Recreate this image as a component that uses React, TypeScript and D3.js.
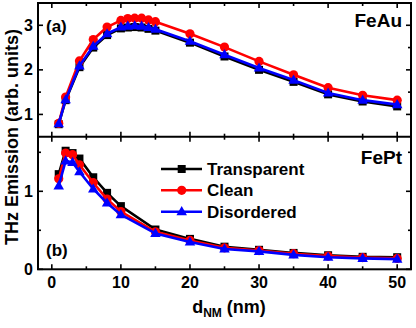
import React from "react";
import * as d3 from "d3";

const xA = [1, 2, 4, 6, 8, 10, 11, 12, 13, 14, 15, 20, 25, 30, 35, 40, 45, 50];
const transA = [0.78, 1.32, 2.06, 2.5, 2.78, 2.93, 2.95, 2.96, 2.95, 2.92, 2.88, 2.61, 2.3, 2.0, 1.73, 1.45, 1.29, 1.18];
const cleanA = [0.8, 1.39, 2.2, 2.68, 2.96, 3.11, 3.15, 3.16, 3.16, 3.12, 3.08, 2.81, 2.51, 2.19, 1.89, 1.6, 1.43, 1.32];
const disA = [0.79, 1.33, 2.09, 2.53, 2.81, 2.96, 2.98, 2.99, 2.98, 2.95, 2.91, 2.64, 2.34, 2.04, 1.77, 1.48, 1.32, 1.22];

const xB = [1, 2, 3, 4, 6, 8, 10, 15, 20, 25, 30, 35, 40, 45, 50];
const transB = [1.22, 1.52, 1.49, 1.42, 1.18, 0.98, 0.81, 0.51, 0.39, 0.29, 0.25, 0.21, 0.18, 0.16, 0.155];
const cleanB = [1.16, 1.49, 1.47, 1.34, 1.11, 0.9, 0.74, 0.48, 0.37, 0.275, 0.24, 0.2, 0.17, 0.15, 0.14];
const disB = [1.07, 1.39, 1.37, 1.25, 1.03, 0.85, 0.7, 0.46, 0.35, 0.26, 0.23, 0.185, 0.155, 0.14, 0.13];

const xTicks = [0, 10, 20, 30, 40, 50];
const xMinor = [5, 15, 25, 35, 45];
const yTicksA = [1, 2, 3];
const yMinorA = [1.5, 2.5];
const yTicksB = [0, 1];
const yMinorB = [0.5, 1.5];

const seriesNames = ["Transparent", "Clean", "Disordered"];
const colors = ["#000000", "#ff0000", "#0000ff"];
const shapes = ["square", "circle", "triangle"];

const FONT = "'Liberation Sans', Arial, Helvetica, sans-serif";

const L = 38, R = 411, T = 3, M = 136.7, B = 269.3;

const x = d3.scaleLinear().domain([-2, 52]).range([L, R]);
const yA = d3.scaleLinear().domain([0.5, 3.5]).range([M, T]);
const yB = d3.scaleLinear().domain([0, 1.7]).range([B, M]);

function Marker({ shape, cx, cy, color }: { shape: string; cx: number; cy: number; color: string }) {
  if (shape === "square") return <rect x={cx - 4} y={cy - 4} width={8} height={8} fill={color} />;
  if (shape === "circle") return <circle cx={cx} cy={cy} r={4.6} fill={color} />;
  const sym = d3.symbol().type(d3.symbolTriangle).size(48)();
  return <path d={sym as string} transform={`translate(${cx},${cy + 0.5})`} fill={color} />;
}

function Series({ xs, ys, y, i }: { xs: number[]; ys: number[]; y: d3.ScaleLinear<number, number>; i: number }) {
  const line = d3.line<number>().x((_, k) => x(xs[k])).y((v) => y(v));
  return (
    <g>
      <path d={line(ys) as string} fill="none" stroke={colors[i]} strokeWidth={2.6} strokeLinejoin="round" />
      {ys.map((v, k) => (
        <Marker key={k} shape={shapes[i]} cx={x(xs[k])} cy={y(v)} color={colors[i]} />
      ))}
    </g>
  );
}

function PanelFrame({ y, top, bottom, ticks, minor }: { y: d3.ScaleLinear<number, number>; top: number; bottom: number; ticks: number[]; minor: number[] }) {
  const maj = 5, mnr = 3;
  return (
    <g stroke="#000" strokeWidth={1.6}>
      {xTicks.map((t) => (
        <g key={"x" + t}>
          <line x1={x(t)} x2={x(t)} y1={bottom} y2={bottom - maj} />
          <line x1={x(t)} x2={x(t)} y1={top} y2={top + maj} />
        </g>
      ))}
      {xMinor.map((t) => (
        <g key={"xm" + t}>
          <line x1={x(t)} x2={x(t)} y1={bottom} y2={bottom - mnr} />
          <line x1={x(t)} x2={x(t)} y1={top} y2={top + mnr} />
        </g>
      ))}
      {ticks.map((t) => (
        <g key={"y" + t}>
          <line x1={L} x2={L + maj} y1={y(t)} y2={y(t)} />
          <line x1={R} x2={R - maj} y1={y(t)} y2={y(t)} />
        </g>
      ))}
      {minor.map((t) => (
        <g key={"ym" + t}>
          <line x1={L} x2={L + mnr} y1={y(t)} y2={y(t)} />
          <line x1={R} x2={R - mnr} y1={y(t)} y2={y(t)} />
        </g>
      ))}
    </g>
  );
}

export default function App() {
  const dataA = [transA, cleanA, disA];
  const dataB = [transB, cleanB, disB];
  const legY = [169, 190.3, 211.7];
  return (
    <svg width={416} height={328} style={{ position: "absolute", left: 0, top: 0 }} fontFamily={FONT} fontWeight="bold">
      <rect x={0} y={0} width={416} height={328} fill="#fff" />
      <PanelFrame y={yA} top={T} bottom={M} ticks={yTicksA} minor={yMinorA} />
      <PanelFrame y={yB} top={M} bottom={B} ticks={yTicksB} minor={yMinorB} />
      {dataA.map((ys, i) => (
        <Series key={"a" + i} xs={xA} ys={ys} y={yA} i={i} />
      ))}
      {dataB.map((ys, i) => (
        <Series key={"b" + i} xs={xB} ys={ys} y={yB} i={i} />
      ))}
      <rect x={L} y={T} width={R - L} height={B - T} fill="none" stroke="#000" strokeWidth={2} />
      <line x1={L} x2={R} y1={M} y2={M} stroke="#000" strokeWidth={2} />
      <g fontSize={16} fill="#000">
        {xTicks.map((t) => (
          <text key={t} x={x(t)} y={288} textAnchor="middle">{t}</text>
        ))}
        {yTicksA.map((t) => (
          <text key={t} x={33} y={yA(t) + 5.5} textAnchor="end">{t}</text>
        ))}
        {yTicksB.map((t) => (
          <text key={t} x={33} y={yB(t) + 5.5} textAnchor="end">{t}</text>
        ))}
      </g>
      <text x={46} y={32} fontSize={17}>(a)</text>
      <text x={46} y={256} fontSize={17}>(b)</text>
      <text x={402} y={27} fontSize={19} textAnchor="end">FeAu</text>
      <text x={402} y={164} fontSize={19} textAnchor="end">FePt</text>
      {seriesNames.map((n, i) => (
        <g key={n}>
          <line x1={161} x2={202} y1={legY[i]} y2={legY[i]} stroke={colors[i]} strokeWidth={2.6} />
          <Marker shape={shapes[i]} cx={181.7} cy={legY[i]} color={colors[i]} />
          <text x={207} y={legY[i] + 6} fontSize={17}>{n}</text>
        </g>
      ))}
      <text transform="translate(18,137) rotate(-90)" textAnchor="middle" fontSize={18}>THz Emission (arb. units)</text>
      <text x={229} y={313} textAnchor="middle" fontSize={18}>
        d<tspan fontSize={12} dy={4}>NM</tspan>
        <tspan dy={-4}> (nm)</tspan>
      </text>
    </svg>
  );
}
